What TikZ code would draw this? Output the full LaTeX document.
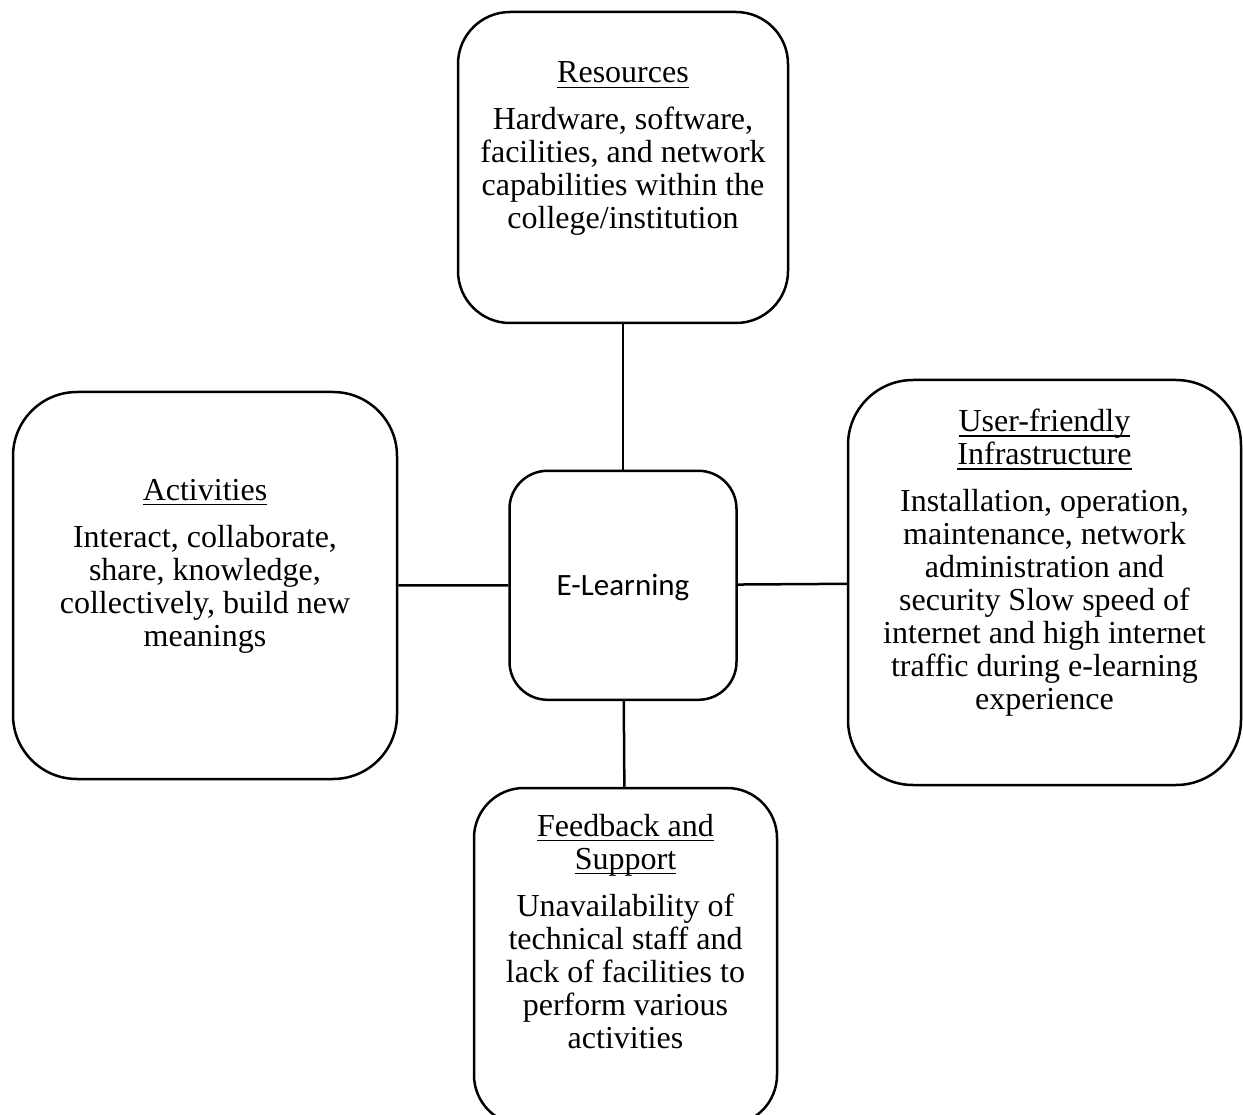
\documentclass[tikz,border=0pt]{standalone}
\usepackage{fontspec}
\setmainfont{Liberation Serif}
\newfontfamily\calibri{Carlito}
\usetikzlibrary{positioning}

\newsavebox\undlbox
\newcommand{\undl}[1]{\sbox\undlbox{#1}\rlap{\rule[-5pt]{\wd\undlbox}{1.4pt}}\usebox\undlbox}

\begin{document}
\begin{tikzpicture}[
    x=1pt,
    y=-1pt,
    line width=2.5pt,
    box/.style={draw, inner sep=0pt},
    txt/.style={align=center, inner sep=0pt, font=\fontsize{32}{33}\selectfont},
]
    \useasboundingbox (0,0) rectangle (1243,1115);
    \clip (0,0) rectangle (1243,1115);

    % boxes
    \node[box, minimum width=227pt, minimum height=229pt, rounded corners=38pt, text depth=0pt,
          font=\calibri\fontsize{31}{37}\selectfont] (el)  at (623,585.3)   {E-Learning};
    \node[box, minimum width=330pt, minimum height=311pt, rounded corners=52pt] (res) at (623,167.5)   {};
    \node[box, minimum width=384pt, minimum height=387pt, rounded corners=64pt] (act) at (205,585.5)   {};
    \node[box, minimum width=393pt, minimum height=405pt, rounded corners=65pt] (ufi) at (1044.5,582.5) {};
    \node[box, minimum width=303pt, minimum height=337pt, rounded corners=50pt] (fb)  at (625.5,956.5) {};

    % texts
    \node[txt, below=50pt of res.north] (res text)
        {\undl{Resources}\\[14pt]
         Hardware, software,\\ facilities, and network\\ capabilities within the\\ college/institution};
    \node[txt, below=87pt of act.north] (act text)
        {\undl{Activities}\\[14pt]
         Interact, collaborate,\\ share, knowledge,\\ collectively, build new\\ meanings};
    \node[txt, below=29pt of ufi.north] (ufi text)
        {\undl{User-friendly}\\ \undl{Infrastructure}\\[14pt]
         Installation, operation,\\ maintenance, network\\ administration and\\
         security Slow speed of\\ internet and high internet\\ traffic during e-learning\\ experience};
    \node[txt, below=26pt of fb.north] (fb text)
        {\undl{Feedback and}\\ \undl{Support}\\[14pt]
         Unavailability of\\ technical staff and\\ lack of facilities to\\ perform various\\ activities};

    \path
        (el) edge (res)
        (el) edge (act)
        (el) edge (ufi)
        (el) edge (fb)
    ;
\end{tikzpicture}
\end{document}
